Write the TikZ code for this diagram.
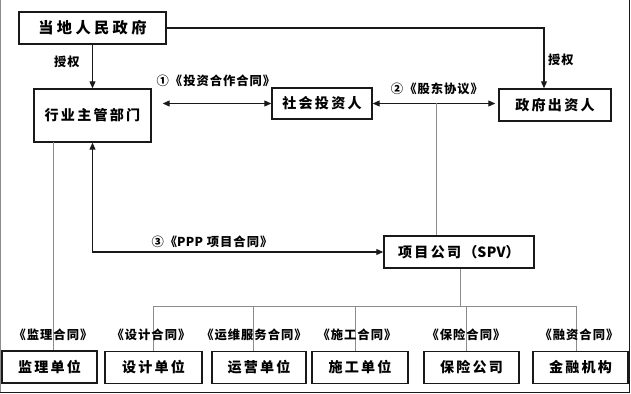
\documentclass[tikz,border=0pt]{standalone}
\usepackage{fontspec}
\setmainfont{Noto Sans CJK SC}
\usetikzlibrary{arrows.meta,positioning,calc}
\definecolor{LineGray}{RGB}{140,140,140}
\definecolor{InkBlack}{RGB}{25,25,25}
\newcommand{\tightlat}[1]{{\addfontfeature{LetterSpace=2}#1}}
\tikzset{
  ubox/.style={draw=InkBlack,fill=white,line width=1.1pt,inner sep=0pt,
               minimum height=0.96cm,text centered,
               font=\fontsize{12}{14}\selectfont\bfseries\addfontfeature{LetterSpace=16}},
  lbl/.style={inner sep=0pt,font=\fontsize{10.5}{12}\selectfont\bfseries\addfontfeature{LetterSpace=8}},
  arr/.style={-{Triangle[length=6pt,width=5pt]},InkBlack,line width=1.1pt},
  darr/.style={{Triangle[length=6pt,width=5pt]}-{Triangle[length=6pt,width=5pt]},
               InkBlack,line width=1.1pt},
  gline/.style={LineGray,line width=0.6pt},
}
\begin{document}
\begin{tikzpicture}[x=0.03cm,y=-0.03cm]
  \useasboundingbox (0,0) rectangle (631,394);
  % frame
  \draw[gline] (0.6,0) -- (0.6,392);
  \draw[InkBlack,line width=0.9pt] (629.5,0) -- (629.5,392.5) -- (0,392.5);
  % upper row
  \node[ubox,minimum width=4.41cm,
        font=\fontsize{13}{15}\selectfont\bfseries\addfontfeature{LetterSpace=22}]
        (gov) at (92.5,28) {当地人民政府};
  \node[ubox,minimum width=3.51cm,minimum height=1.59cm] (dept) at (92.5,115.5) {行业主管部门};
  \node[ubox,minimum width=3.0cm,minimum height=0.93cm] (inv) at (322,103.5) {社会投资人};
  \node[ubox,minimum width=3.36cm] (govinv) at (555,105) {政府出资人};
  \node[ubox,minimum width=4.5cm] (spv) at (459,252) {项目公司（\tightlat{SPV}）};
  % lower row
  \node[ubox,minimum width=2.85cm] (jl) at (49.5,367) {监理单位};
  \node[ubox,minimum width=2.91cm] (sj) at (153.5,367.5) {设计单位};
  \node[ubox,minimum width=2.82cm] (yy) at (259,367.5) {运营单位};
  \node[ubox,minimum width=2.88cm] (sg) at (360,367.5) {施工单位};
  \node[ubox,minimum width=2.85cm] (bx) at (471.5,367.5) {保险公司};
  \node[ubox,minimum width=2.85cm] (jr) at (580.5,367.5) {金融机构};
  % helper points
  \coordinate (tr) at (544,28);
  \coordinate (m2) at (436,103.5);
  \coordinate (d1) at (53,142);
  \coordinate (bus) at (460,306);
  % connectors
  \draw[arr] (gov) -- (dept);
  \draw[arr] (gov.east) -- (tr) -- (tr |- govinv.north);
  \draw[darr,shorten <=0.33cm] (dept.east |- inv.west) -- (inv.west);
  \draw[darr,shorten >=0.09cm] (inv.east) -- (inv.east -| govinv.west);
  \draw[darr] (dept.south) |- (spv.west);
  \draw[gline] (m2) -- (m2 |- spv.north);
  \draw[gline] (d1) -- (d1 |- jl.north);
  \draw[gline] (spv.south -| bus) -- (bus);
  \draw[gline] ([xshift=-0.01cm]sj.north) |- (bus);
  \draw[gline] ([xshift=-0.18cm]yy.north) |- (bus);
  \draw[gline] ([xshift=-0.15cm]sg.north) |- (bus);
  \draw[gline] ([xshift=-0.14cm]bx.north) |- (bus);
  \draw[gline] ([xshift=-0.11cm]jr.north) |- (bus);
  % labels
  \node[lbl] (sq1) at (67,62) {授权};
  \node[lbl] (sq2) at (561,60) {授权};
  \node[lbl] (c1) at (216,81) {①《投资合作合同》};
  \node[lbl] (c2) at (437,89) {②《股东协议》};
  \node[lbl] (c3) at (212,242) {③《\tightlat{PPP} 项目合同》};
  \node[lbl] (cjl) at (53,335) {《监理合同》};
  \node[lbl] (csj) at (151,335) {《设计合同》};
  \node[lbl] (cyy) at (254,335) {《运维服务合同》};
  \node[lbl] (csg) at (357,335) {《施工合同》};
  \node[lbl] (cbx) at (466,335) {《保险合同》};
  \node[lbl] (cjr) at (579,335) {《融资合同》};
\end{tikzpicture}
\end{document}
